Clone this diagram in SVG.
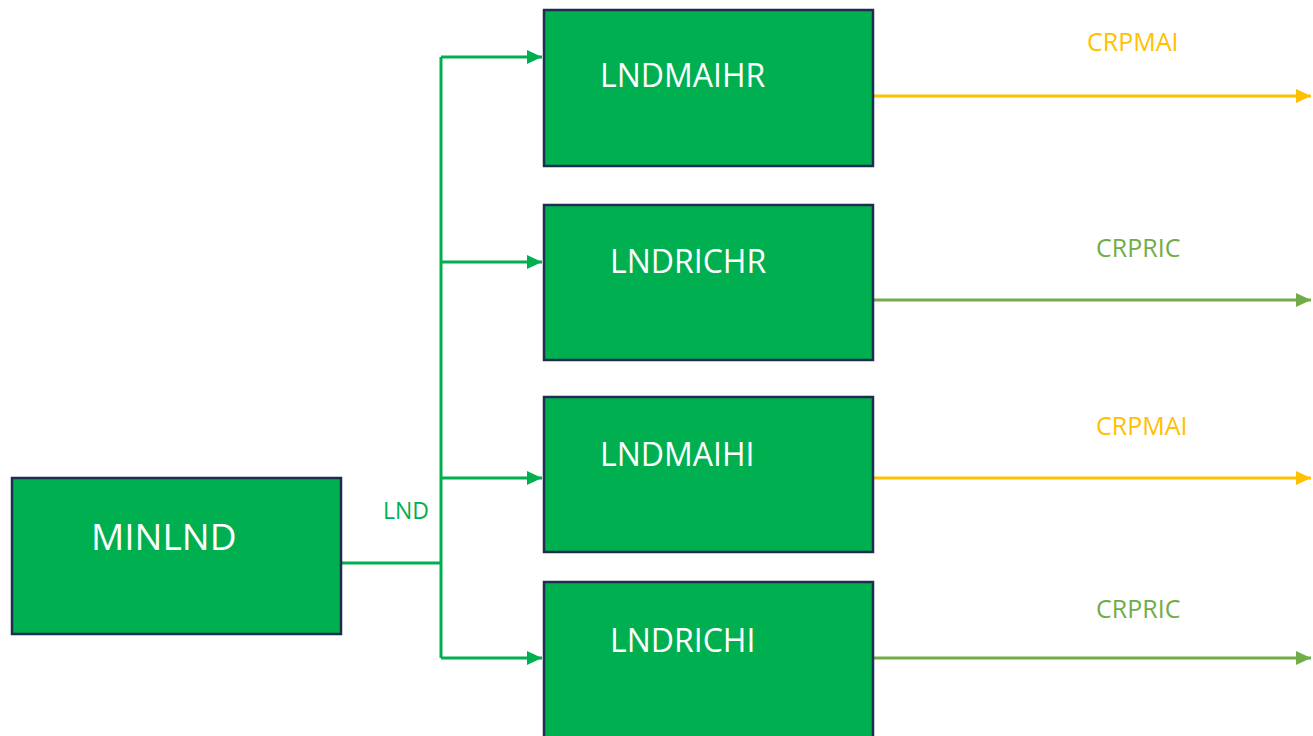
<svg xmlns="http://www.w3.org/2000/svg" width="1313" height="736" viewBox="0 0 1313 736">
<style>
.node{fill:#00B050;stroke:#1F2D50;stroke-width:2.5}
.nt{font-family:"Open Sans","Liberation Sans",sans-serif;fill:#FFFFFF;font-size:32px}
.big{font-size:37px}
.lbl{font-family:"Open Sans","Liberation Sans",sans-serif;font-size:25px}
.sm{font-size:23px}
.g{stroke:#00B050;stroke-width:3;fill:none}
.y{stroke:#FFC000;stroke-width:3;fill:none}
.lg{stroke:#70AD47;stroke-width:3;fill:none}
</style>
<defs>
<marker id="ag" markerUnits="userSpaceOnUse" markerWidth="16" markerHeight="14" refX="15" refY="7" orient="auto"><path d="M0,0 L15,7 L0,14 Z" fill="#00B050"/></marker>
<marker id="ay" markerUnits="userSpaceOnUse" markerWidth="16" markerHeight="14" refX="15" refY="7" orient="auto"><path d="M0,0 L15,7 L0,14 Z" fill="#FFC000"/></marker>
<marker id="alg" markerUnits="userSpaceOnUse" markerWidth="16" markerHeight="14" refX="15" refY="7" orient="auto"><path d="M0,0 L15,7 L0,14 Z" fill="#70AD47"/></marker>
</defs>
<rect width="1313" height="736" fill="#FFFFFF"/>
<g id="connectors">
<path class="g" d="M341,563 H441"/>
<path class="g" d="M441,57 V658"/>
<path class="g" d="M441,57 H542" marker-end="url(#ag)"/>
<path class="g" d="M441,262 H542" marker-end="url(#ag)"/>
<path class="g" d="M441,478 H542" marker-end="url(#ag)"/>
<path class="g" d="M441,658 H542" marker-end="url(#ag)"/>
<path class="y" d="M873,96 H1311" marker-end="url(#ay)"/>
<path class="lg" d="M873,300 H1311" marker-end="url(#alg)"/>
<path class="y" d="M873,478 H1311" marker-end="url(#ay)"/>
<path class="lg" d="M873,658 H1311" marker-end="url(#alg)"/>
<text class="lbl sm" x="383" y="519" fill="#00B050">LND</text>
<text class="lbl" x="1087" y="51" fill="#FFC000">CRPMAI</text>
<text class="lbl" x="1096" y="257" fill="#70AD47">CRPRIC</text>
<text class="lbl" x="1096" y="435" fill="#FFC000">CRPMAI</text>
<text class="lbl" x="1096" y="618" fill="#70AD47">CRPRIC</text>
</g>
<g id="MINLND">
<rect class="node" x="12" y="478" width="329" height="156"/>
<text class="nt big" x="91" y="550">MINLND</text>
</g>
<g id="LNDMAIHR">
<rect class="node" x="544" y="10" width="329" height="156"/>
<text class="nt" x="600" y="87">LNDMAIHR</text>
</g>
<g id="LNDRICHR">
<rect class="node" x="544" y="205" width="329" height="155"/>
<text class="nt" x="610" y="273">LNDRICHR</text>
</g>
<g id="LNDMAIHI">
<rect class="node" x="544" y="397" width="329" height="155"/>
<text class="nt" x="600" y="466">LNDMAIHI</text>
</g>
<g id="LNDRICHI">
<rect class="node" x="544" y="582" width="329" height="160"/>
<text class="nt" x="610" y="652">LNDRICHI</text>
</g>
</svg>
